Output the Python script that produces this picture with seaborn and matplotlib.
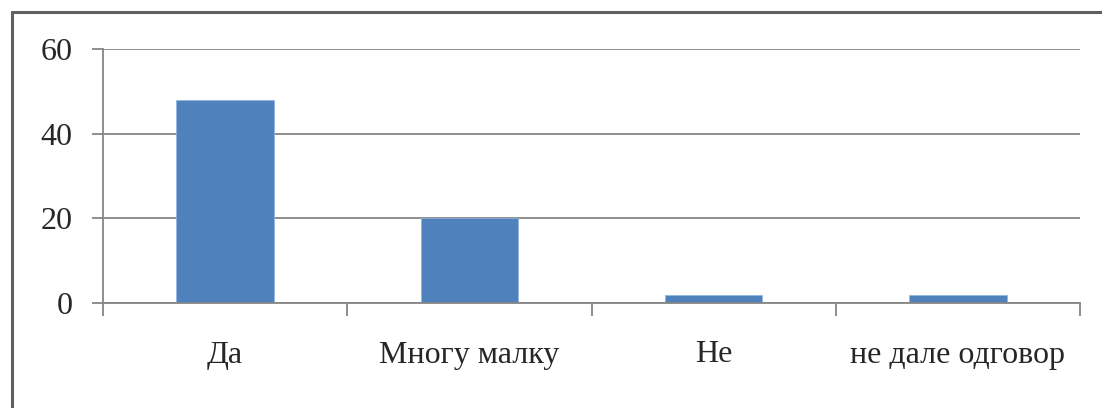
import pandas as pd
import matplotlib.pyplot as plt
from matplotlib.lines import Line2D
import seaborn as sns

categories = ["Да", "Многу малку", "Не", "не дале одговор"]
values = [48, 20, 2, 2]
y_ticks = [0, 20, 40, 60]

df = pd.DataFrame({"answer": categories, "count": values})

sns.set_theme(style="white")
plt.rcParams["font.family"] = ["Liberation Serif", "DejaVu Serif"]

W, H = 1102, 408
fig = plt.figure(figsize=(W / 100, H / 100), dpi=100)
ax = fig.add_axes([103 / W, 1 - 303 / H, (1080 - 103) / W, (303 - 49) / H])

sns.barplot(df, x="answer", y="count", color="#4F81BD", width=0.4,
            saturation=1, edgecolor="#8EB4E3", linewidth=0.5, ax=ax)

grid_c = "#868686"
ax.set_ylim(0, 60)
ax.set_xlim(-0.5, len(categories) - 0.5)
ax.set_yticks(y_ticks)
ax.set_yticklabels([str(t) for t in y_ticks])
ax.yaxis.grid(True, color=grid_c, linewidth=1.3)
ax.set_axisbelow(True)

# category boundaries get the tick marks, labels sit in between
ax.set_xticks([i - 0.5 for i in range(len(categories) + 1)])
ax.set_xticklabels([""] * (len(categories) + 1))
ax.set_xticks(range(len(categories)), minor=True)
ax.set_xticklabels(categories, minor=True)
ax.tick_params(axis="x", which="major", length=9, width=1.3, color=grid_c, direction="out", bottom=True)
ax.tick_params(axis="x", which="minor", length=0, pad=27, labelsize=23, bottom=True)
ax.tick_params(axis="y", length=8, width=1.3, color=grid_c, direction="out", pad=14, labelsize=23, left=True)

ax.set_xlabel("")
ax.set_ylabel("")
for s in ["top", "right"]:
    ax.spines[s].set_visible(False)
for s in ["left", "bottom"]:
    ax.spines[s].set_color(grid_c)
    ax.spines[s].set_linewidth(1.3)

# outer frame (only left and top edges visible)
bx = 11.5 / W
by = 1 - 12 / H
fig.add_artist(Line2D([bx, bx], [0, by], color="#606060", linewidth=2.2, transform=fig.transFigure))
fig.add_artist(Line2D([bx, 1], [by, by], color="#606060", linewidth=2.2, transform=fig.transFigure))

fig.savefig("out.png", dpi=100)
